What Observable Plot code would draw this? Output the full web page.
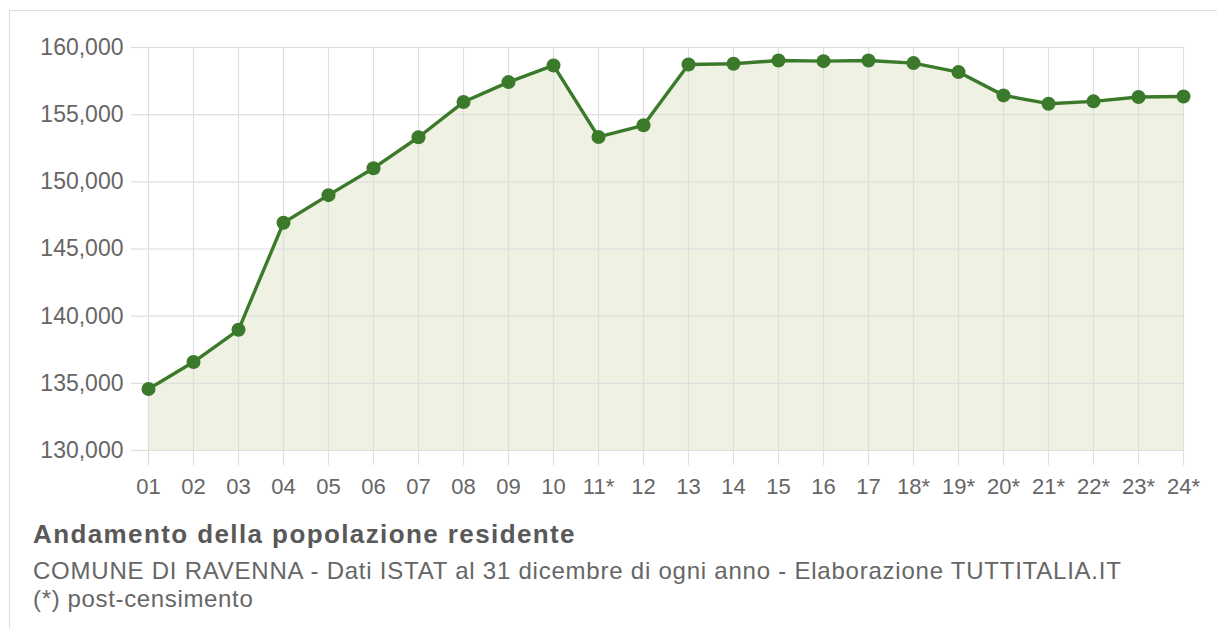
<!DOCTYPE html>
<html lang="it">
<head>
<meta charset="utf-8">
<title>Andamento della popolazione residente - Ravenna</title>
<script src="https://cdn.jsdelivr.net/npm/d3@7"></script>
<script src="https://cdn.jsdelivr.net/npm/@observablehq/plot@0.6"></script>
<style>
  html, body { margin: 0; padding: 0; background: #fff; overflow: hidden; }
  body { width: 1217px; height: 628px; position: relative; font-family: "Liberation Sans", Arial, sans-serif; }
  #frame { position: absolute; left: 9px; top: 10px; width: 1400px; height: 800px; border: 1.5px solid #dedede; box-sizing: border-box; }
  #chart { position: absolute; left: 0; top: 0; }
  .note { position: absolute; left: 33px; white-space: nowrap; color: #666; }
  #title { top: 520.7px; font-size: 26px; line-height: 26px; font-weight: bold; letter-spacing: 1.4px; color: #595959; }
  #subtitle { top: 557.3px; font-size: 24px; line-height: 27.4px; letter-spacing: 0.77px; }
  #footnote { top: 584.7px; font-size: 24px; line-height: 27.4px; letter-spacing: 0.65px; }
</style>
</head>
<body>
<div id="frame"></div>
<div id="chart"></div>
<div class="note" id="title">Andamento della popolazione residente</div>
<div class="note" id="subtitle">COMUNE DI RAVENNA - Dati ISTAT al 31 dicembre di ogni anno - Elaborazione TUTTITALIA.IT</div>
<div class="note" id="footnote">(*) post-censimento</div>
<script>
// Year labels (2001–2024); "*" marks post-census figures
const years = ["01", "02", "03", "04", "05", "06", "07", "08", "09", "10",
               "11*", "12", "13", "14", "15", "16", "17", "18*", "19*", "20*",
               "21*", "22*", "23*", "24*"];

// Resident population at 31 December of each year
const population = [134581, 136586, 138985, 146952, 149010, 151014, 153317, 155938,
                    157423, 158663, 153339, 154208, 158738, 158787, 159035, 158985,
                    159035, 158837, 158168, 156436, 155817, 155990, 156312, 156350];

// Value axis ticks
const yTicks = [130000, 135000, 140000, 145000, 150000, 155000, 160000];
const yBase = 130000;

const data = years.map((year, i) => ({year, population: population[i]}));

const lineColor = "#3b7a2a";
const areaColor = "#eff1e3";
const gridColor = "#dedede";

const chart = Plot.plot({
  width: 1217,
  height: 510,
  marginLeft: 147,
  marginRight: 34,
  marginTop: 47,
  marginBottom: 60,
  style: {fontFamily: '"Liberation Sans", Arial, sans-serif', background: "transparent", color: "#666"},
  x: {type: "point", domain: years, padding: 0, label: null},
  y: {domain: [yBase, yTicks[yTicks.length - 1]], label: null},
  marks: [
    Plot.areaY(data, {x: "year", y1: yBase, y2: "population", fill: areaColor}),
    Plot.gridX(years, {stroke: gridColor, strokeOpacity: 1, strokeWidth: 1.2}),
    Plot.gridY(yTicks, {stroke: gridColor, strokeOpacity: 1, strokeWidth: 1.2}),
    Plot.axisX(years, {tickSize: 15, tickPadding: 13, fontSize: 22, stroke: gridColor, strokeWidth: 1.2, fill: "#666"}),
    Plot.axisY(yTicks, {tickSize: 16, tickPadding: 8, fontSize: 23, stroke: gridColor, strokeWidth: 1.2, fill: "#666",
                        tickFormat: d3.format(",")}),
    Plot.lineY(data, {x: "year", y: "population", stroke: lineColor, strokeWidth: 3.4}),
    Plot.dot(data, {x: "year", y: "population", r: 7, fill: lineColor, stroke: null})
  ]
});

document.getElementById("chart").appendChild(chart);
</script>
</body>
</html>
